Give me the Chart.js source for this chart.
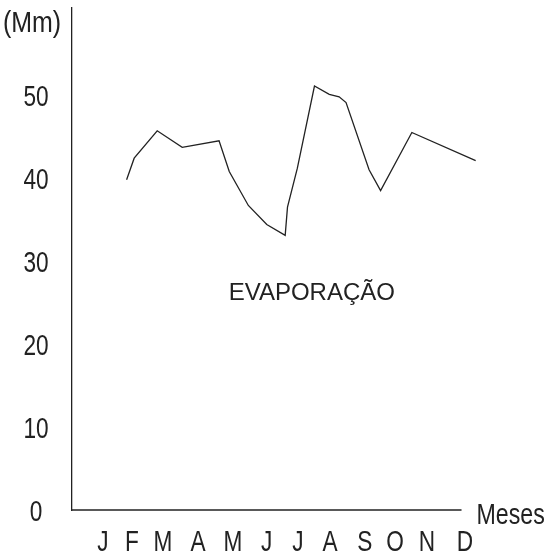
<!DOCTYPE html>
<html>
<head>
<meta charset="utf-8">
<script src="https://cdn.jsdelivr.net/npm/chart.js@4.4.1/dist/chart.umd.min.js"></script>
<style>
  body { margin: 0; background: #fff; }
  #evap { display: block; }
</style>
</head>
<body>
<canvas id="evap" width="555" height="558"></canvas>
<script>
// month labels and where they sit along the x axis (month units)
var monthLabels = ["J", "F", "M", "A", "M", "J", "J", "A", "S", "O", "N", "D"];
var monthPos = [0, 0.88, 1.82, 2.89, 3.95, 4.98, 5.93, 6.9, 7.96, 8.88, 9.85, 11];

// evaporation curve (Mm)
var evapX = [0.72, 0.95, 1.65, 2.41, 3.53, 3.84, 4.42, 4.98, 5.54, 5.61, 5.91, 6.43, 6.88, 7.18, 7.39, 8.09, 8.44, 9.39, 11.33];
var evapY = [39.8, 42.4, 45.7, 43.7, 44.5, 40.8, 36.7, 34.4, 33.1, 36.5, 41.2, 51.1, 50.1, 49.8, 49.1, 41.0, 38.5, 45.5, 42.1];

var yTicks = [0, 10, 20, 30, 40, 50];

var sans = "'Liberation Sans', Arial, sans-serif";
var ink = "#222";
var squeeze = 0.78; // the original lettering is a narrow face

var points = [];
for (var i = 0; i < evapX.length; i++) {
  points.push({ x: evapX[i], y: evapY[i] });
}

// narrow text: regular font squeezed sideways
function narrowText(ctx, txt, x, y, align, sx) {
  ctx.save();
  ctx.translate(x, y);
  ctx.scale(sx, 1);
  ctx.textAlign = align;
  ctx.fillText(txt, 0, 0);
  ctx.restore();
}

// tick labels, titles and the short x axis line
var decor = {
  id: "decor",
  afterDraw: function(chart) {
    var ctx = chart.ctx;
    var xs = chart.scales.x, ys = chart.scales.y;
    var bottom = chart.chartArea.bottom;
    ctx.save();
    ctx.strokeStyle = ink;
    ctx.lineWidth = 1.3;
    ctx.beginPath();
    ctx.moveTo(chart.chartArea.left, bottom);
    ctx.lineTo(xs.getPixelForValue(10.9), bottom);
    ctx.stroke();

    ctx.fillStyle = ink;
    ctx.textBaseline = "alphabetic";
    ctx.font = "29px " + sans;

    xs.ticks.forEach(function(t) {
      narrowText(ctx, t.label, xs.getPixelForValue(t.value), bottom + 41, "center", squeeze);
    });
    ys.ticks.forEach(function(t) {
      narrowText(ctx, t.label, 36, ys.getPixelForValue(t.value) + 10.5, "center", squeeze);
    });

    narrowText(ctx, "(Mm)", 3, 32, "left", 0.86);
    narrowText(ctx, "Meses", xs.getPixelForValue(10.9) + 15, bottom + 14, "left", 0.8);

    ctx.font = "24px " + sans;
    ctx.textAlign = "center";
    ctx.fillText("EVAPORAÇÃO", xs.getPixelForValue(6.35), ys.getPixelForValue(25.3));
    ctx.restore();
  }
};

var ctx = document.getElementById("evap");
var evapChart = new Chart(ctx, {
  type: "line",
  data: {
    datasets: [{
      data: points,
      borderColor: ink,
      borderWidth: 1.3,
      pointRadius: 0,
      tension: 0,
      fill: false
    }]
  },
  options: {
    responsive: false,
    animation: false,
    layout: { padding: { top: 8, right: 79, left: 0, bottom: 0 } },
    plugins: {
      legend: { display: false },
      tooltip: { enabled: false }
    },
    scales: {
      x: {
        type: "linear",
        min: -0.94,
        max: 11.34,
        grid: { display: false },
        border: { display: false },
        afterBuildTicks: function(scale) {
          scale.ticks = monthPos.map(function(v) { return { value: v }; });
        },
        afterFit: function(scale) {
          scale.height = 48;
          scale.paddingLeft = 0;
          scale.paddingRight = 0;
        },
        ticks: {
          display: false,
          autoSkip: false,
          maxRotation: 0,
          callback: function(value, index) { return monthLabels[index]; }
        }
      },
      y: {
        min: 0,
        max: 60.5,
        grid: { display: false },
        border: { display: true, color: ink, width: 1.3 },
        afterBuildTicks: function(scale) {
          scale.ticks = yTicks.map(function(v) { return { value: v }; });
        },
        afterFit: function(scale) {
          scale.width = 72;
          scale.paddingTop = 0;
          scale.paddingBottom = 0;
        },
        ticks: { display: false }
      }
    }
  },
  plugins: [decor]
});
</script>
</body>
</html>
